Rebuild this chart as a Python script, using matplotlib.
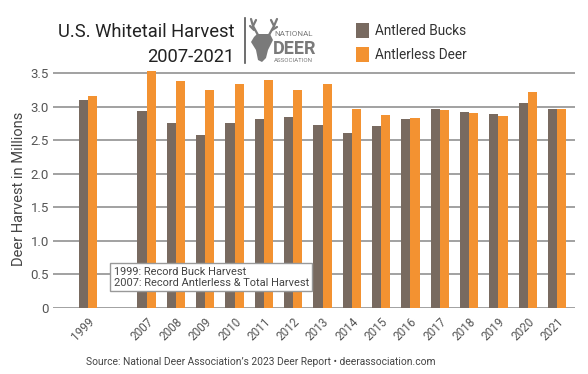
import matplotlib
matplotlib.use("Agg")
import matplotlib.pyplot as plt
import numpy as np
from matplotlib.patches import Polygon, Rectangle
from matplotlib.lines import Line2D

years = ["1999", "2007", "2008", "2009", "2010", "2011", "2012", "2013", "2014",
         "2015", "2016", "2017", "2018", "2019", "2020", "2021"]
slots = [0, 2, 3, 4, 5, 6, 7, 8, 9, 10, 11, 12, 13, 14, 15, 16]
antlered = [3.10, 2.94, 2.75, 2.58, 2.75, 2.82, 2.85, 2.73, 2.61, 2.71, 2.82, 2.97, 2.92, 2.89, 3.05, 2.97]
antlerless = [3.15, 3.53, 3.38, 3.25, 3.33, 3.40, 3.25, 3.33, 2.96, 2.87, 2.83, 2.95, 2.91, 2.86, 3.21, 2.96]
yticks = [0, 0.5, 1.0, 1.5, 2.0, 2.5, 3.0, 3.5]
ytick_labels = ["0", "0.5", "1.0", "1.5", "2.0", "2.5", "3.0", "3.5"]

BROWN = "#786a60"
ORANGE = "#f39231"
GRID = "#9a9a9a"
FONT = "Roboto"

W, H = 588, 374
fig = plt.figure(figsize=(W / 100, H / 100), dpi=100)
fig.patch.set_facecolor("white")

ax_left, ax_right, ax_bottom, ax_top = 53, 575, 308, 69.6
ax = fig.add_axes([ax_left / W, 1 - ax_bottom / H, (ax_right - ax_left) / W, (ax_bottom - ax_top) / H])

x = np.array(slots, dtype=float)
bw = 0.31
ax.bar(x - bw / 2, antlered, width=bw, color=BROWN, zorder=3)
ax.bar(x + bw / 2, antlerless, width=bw, color=ORANGE, zorder=3)

ax.set_ylim(0, 3.55)
ax.set_xlim(-1.19, 16.61)
ax.set_yticks(yticks)
ax.set_yticklabels(ytick_labels, fontfamily=FONT, fontsize=9.5, color="#555555")
ax.set_xticks(x)
ax.set_xticklabels(years, rotation=45, ha="right", rotation_mode="anchor",
                   fontfamily=FONT, fontsize=8.5, color="#555555")
ax.tick_params(axis="y", length=0, pad=3)
ax.tick_params(axis="x", length=0, pad=5)
for s in ax.spines.values():
    s.set_visible(False)
ax.grid(axis="y", color=GRID, linewidth=1.3, zorder=1)
ax.set_axisbelow(True)
ax.set_ylabel("Deer Harvest in Millions", fontfamily=FONT, fontsize=10.5, color="#444444", labelpad=3)

ax.text(0.116, 0.085, "1999: Record Buck Harvest\n2007: Record Antlerless & Total Harvest",
        transform=ax.transAxes, fontfamily=FONT, fontsize=7.9, color="#444444",
        va="bottom", ha="left", linespacing=1.15, zorder=5,
        bbox=dict(boxstyle="square,pad=0.3", facecolor="white", edgecolor="#999999", linewidth=1))

def fx(px):
    return px / W

def fy(py):
    return 1 - py / H

fig.text(fx(235), fy(37), "U.S. Whitetail Harvest", ha="right", va="baseline",
         fontfamily=FONT, fontsize=13.2, color="#222222")
fig.text(fx(235), fy(62), "2007-2021", ha="right", va="baseline",
         fontfamily=FONT, fontsize=13.2, color="#222222")
fig.add_artist(Line2D([fx(245), fx(245)], [fy(18), fy(63)], color="#555555", linewidth=1.2))

# Logo (simple deer-head sketch)
LOGO = "#7a7a7a"
head = [(257, 34), (270, 34), (273, 40), (268, 50), (266, 58), (262, 62), (258, 60),
        (256, 50), (251, 42), (254, 37)]
fig.add_artist(Polygon([(fx(a), fy(b)) for a, b in head], closed=True, facecolor=LOGO,
                       edgecolor="none"))
for seg in [[(258, 35), (253, 26), (251, 19)], [(253, 26), (256, 20)], [(254, 30), (250, 26)],
            [(269, 35), (274, 26), (277, 19)], [(274, 26), (271, 20)], [(272, 30), (277, 27)]]:
    fig.add_artist(Line2D([fx(p[0]) for p in seg], [fy(p[1]) for p in seg], color=LOGO,
                          linewidth=1.6, solid_capstyle="round"))
fig.text(fx(274), fy(36), "NATIONAL", ha="left", va="baseline", fontfamily=FONT,
         fontsize=5.8, color=LOGO)
fig.text(fx(273), fy(54), "DEER", ha="left", va="baseline", fontfamily=FONT,
         fontsize=13, fontweight="bold", color=LOGO)
fig.text(fx(274), fy(62), "ASSOCIATION", ha="left", va="baseline", fontfamily=FONT,
         fontsize=4.4, color=LOGO)

# Legend
fig.add_artist(Rectangle((fx(356), fy(38)), 13 / W, 15 / H, facecolor=BROWN, edgecolor="none"))
fig.add_artist(Rectangle((fx(356), fy(62)), 13 / W, 15 / H, facecolor=ORANGE, edgecolor="none"))
fig.text(fx(375), fy(31), "Antlered Bucks", ha="left", va="center", fontfamily=FONT,
         fontsize=9.8, color="#333333")
fig.text(fx(375), fy(55), "Antlerless Deer", ha="left", va="center", fontfamily=FONT,
         fontsize=9.8, color="#333333")

fig.text(fx(261), fy(362), "Source: National Deer Association\u2019s 2023 Deer Report \u2022 deerassociation.com",
         ha="center", va="center", fontfamily=FONT, fontsize=7.4, color="#444444")

fig.savefig("out.png", dpi=100, facecolor="white")
